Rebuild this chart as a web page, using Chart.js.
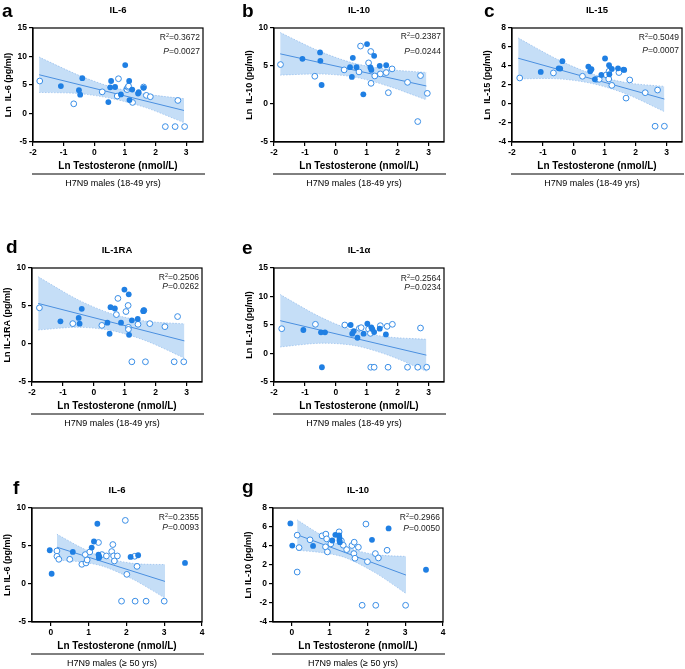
<!DOCTYPE html>
<html lang="en">
<head>
<meta charset="UTF-8">
<title>Testosterone vs cytokines</title>
<script src="https://cdn.jsdelivr.net/npm/chart.js@4.4.0/dist/chart.umd.min.js"></script>
<style>
    body { margin: 0; width: 685px; height: 669px; overflow: hidden; background: #fff; position: relative;
           font-family: "Liberation Sans", Arial, sans-serif; }
    canvas { position: absolute; }
    .letter { position: absolute; font-weight: bold; font-size: 19px; line-height: 19px; color: #000; }
</style>
</head>
<body>
<script>
// ---- data (x = Ln testosterone, y = Ln cytokine) ----
// a: IL-6, 18-49 yrs
const aFilledX = [-1.09, -0.50, -0.46, -0.39, 0.46, 0.55, 0.52, 0.68, 0.87, 1.01, 1.14, 1.15, 1.24, 1.43, 1.45, 1.61];
const aFilledY = [4.82, 4.1, 3.3, 6.2, 2.0, 5.7, 4.6, 4.65, 3.35, 8.5, 5.7, 2.35, 4.2, 3.5, 3.75, 4.5];
const aOpenX = [-1.78, -0.67, 0.26, 0.75, 0.79, 1.06, 1.07, 1.10, 1.12, 1.25, 1.61, 1.70, 1.83, 2.32, 2.64, 2.73, 2.95];
const aOpenY = [5.7, 1.7, 3.8, 3.06, 6.1, 4.3, 4.2, 4.6, 4.8, 1.94, 4.65, 3.18, 2.94, -2.3, -2.3, 2.29, -2.3];
const aLineX = [-1.8, 2.93];
const aLineY = [6.8, 0.53];
const aBandX = [-1.8, -0.5, 0.6, 1.7, 2.93];
const aBandUp = [9.9, 6.7, 4.6, 3.4, 2.6];
const aBandLo = [3.7, 3.5, 2.6, 1.0, -1.6];

// b: IL-10, 18-49 yrs
const bFilledX = [-1.08, -0.51, -0.50, -0.46, 0.46, 0.52, 0.55, 0.67, 0.89, 1.01, 1.12, 1.15, 1.24, 1.42, 1.63];
const bFilledY = [5.94, 6.78, 5.68, 2.50, 4.84, 3.56, 6.07, 4.84, 1.27, 7.88, 4.80, 4.49, 6.34, 5.02, 5.10];
const bOpenX = [-1.79, -0.68, 0.27, 0.75, 0.80, 1.06, 1.13, 1.14, 1.26, 1.44, 1.63, 1.70, 1.82, 2.32, 2.65, 2.74, 2.96];
const bOpenY = [5.19, 3.65, 4.49, 4.22, 7.62, 5.41, 6.91, 2.72, 3.69, 3.96, 4.13, 1.49, 4.62, 2.85, -2.31, 3.74, 1.40];
const bLineX = [-1.8, 2.93];
const bLineY = [6.6, 2.37];
const bBandX = [-1.8, -0.5, 0.6, 1.7, 2.93];
const bBandUp = [9.4, 6.9, 5.35, 4.55, 4.15];
const bBandLo = [3.8, 3.95, 3.55, 2.35, 0.55];

// c: IL-15, 18-49 yrs
const cFilledX = [-1.07, -0.49, -0.44, -0.37, 0.47, 0.53, 0.57, 0.68, 0.89, 1.01, 1.14, 1.15, 1.23, 1.43, 1.61, 1.63];
const cFilledY = [3.38, 3.76, 3.73, 4.51, 3.94, 3.45, 3.66, 2.6, 3.06, 4.79, 4.08, 3.13, 3.69, 3.76, 3.62, 3.59];
const cOpenX = [-1.75, -0.66, 0.28, 0.73, 0.82, 1.05, 1.13, 1.14, 1.23, 1.46, 1.69, 1.81, 2.31, 2.63, 2.71, 2.93];
const cOpenY = [2.74, 3.27, 2.92, 2.60, 2.6, 3.06, 2.63, 3.45, 1.96, 3.31, 0.62, 2.53, 1.19, -2.34, 1.47, -2.34];
const cLineX = [-1.8, 2.93];
const cLineY = [4.82, 0.52];
const cBandX = [-1.8, -0.5, 0.6, 1.7, 2.93];
const cBandUp = [6.95, 4.65, 3.15, 2.25, 1.85];
const cBandLo = [2.65, 2.65, 2.15, 1.05, -0.8];

// d: IL-1RA, 18-49 yrs
const dFilledX = [-1.08, -0.49, -0.46, -0.39, 0.44, 0.51, 0.54, 0.68, 0.88, 0.99, 1.13, 1.14, 1.23, 1.42, 1.60, 1.62];
const dFilledY = [2.99, 3.43, 2.68, 4.63, 2.81, 1.35, 4.85, 4.67, 2.81, 7.16, 6.54, 1.21, 3.12, 3.30, 4.32, 4.41];
const dOpenX = [-1.76, -0.68, 0.26, 0.73, 0.78, 1.04, 1.11, 1.12, 1.12, 1.23, 1.43, 1.62, 1.67, 1.81, 2.30, 2.60, 2.71, 2.91];
const dOpenY = [4.76, 2.68, 2.45, 3.87, 6.0, 4.27, 5.07, 2.19, 1.92, -2.34, 2.59, 4.41, -2.34, 2.68, 2.28, -2.34, 3.61, -2.34];
const dLineX = [-1.8, 2.93];
const dLineY = [5.34, 0.41];
const dBandX = [-1.8, -0.5, 0.6, 1.7, 2.93];
const dBandUp = [8.85, 5.8, 3.95, 3.0, 2.65];
const dBandLo = [1.85, 2.2, 1.75, 0.4, -1.85];

// e: IL-1α, 18-49 yrs
const eFilledX = [-1.05, -0.48, -0.45, -0.35, 0.48, 0.53, 0.58, 0.70, 0.90, 1.02, 1.15, 1.18, 1.24, 1.42, 1.62];
const eFilledY = [4.12, 3.71, -2.41, 3.71, 5.0, 3.47, 3.94, 2.76, 3.47, 5.24, 4.59, 4.29, 3.76, 4.35, 3.35];
const eOpenX = [-1.75, -0.66, 0.29, 0.76, 0.82, 1.06, 1.12, 1.13, 1.24, 1.44, 1.66, 1.69, 1.83, 2.32, 2.65, 2.74, 2.94];
const eOpenY = [4.35, 5.12, 5.0, 4.41, 4.53, 4.29, 3.53, -2.41, -2.41, 4.88, 4.76, -2.41, 5.12, -2.41, -2.41, 4.47, -2.41];
const eLineX = [-1.8, 2.93];
const eLineY = [5.76, -0.29];
const eBandX = [-1.8, -0.5, 0.6, 1.7, 2.93];
const eBandUp = [10.35, 6.4, 4.0, 2.9, 2.5];
const eBandLo = [1.15, 1.8, 1.4, -0.3, -3.1];

// f: IL-6, >= 50 yrs
const fFilledX = [-0.03, 0.02, 0.58, 1.08, 1.14, 1.23, 1.26, 1.27, 1.28, 2.11, 2.31, 3.55];
const fFilledY = [4.44, 1.35, 4.22, 4.79, 5.59, 7.93, 3.87, 3.43, 3.60, 3.56, 3.78, 2.77];
const fOpenX = [0.16, 0.16, 0.21, 0.50, 0.82, 0.91, 0.93, 0.96, 1.03, 1.26, 1.35, 1.47, 1.61, 1.64, 1.66, 1.68, 1.76, 1.87, 1.97, 2.01, 2.22, 2.23, 2.28, 2.52, 3.00];
const fOpenY = [4.35, 3.65, 3.25, 3.25, 2.59, 3.87, 2.77, 3.16, 4.22, 5.46, 3.87, 3.69, 4.27, 5.19, 3.69, 3.03, 3.69, -2.26, 8.37, 1.27, 3.65, -2.26, 2.32, -2.26, -2.26];
const fLineX = [0.16, 3.02];
const fLineY = [4.84, 0.34];
const fBandX = [0.16, 0.8, 1.4, 2.2, 3.02];
const fBandUp = [6.55, 4.8, 3.5, 2.7, 2.55];
const fBandLo = [3.15, 2.9, 2.3, 0.55, -1.85];

// g: IL-10, >= 50 yrs
const gFilledX = [-0.04, 0.01, 0.56, 1.07, 1.15, 1.25, 1.26, 1.26, 1.27, 2.12, 2.56, 3.55];
const gFilledY = [6.38, 4.05, 4.01, 4.58, 5.18, 5.11, 4.86, 4.58, 4.40, 4.65, 5.85, 1.5];
const gOpenX = [0.14, 0.14, 0.19, 0.48, 0.80, 0.89, 0.90, 0.92, 0.94, 1.03, 1.25, 1.31, 1.36, 1.45, 1.59, 1.64, 1.65, 1.67, 1.76, 1.86, 1.96, 2.00, 2.21, 2.22, 2.29, 2.52, 3.01];
const gOpenY = [5.14, 1.26, 3.83, 4.65, 5.07, 3.91, 5.25, 4.75, 3.38, 4.22, 5.49, 4.54, 4.08, 3.62, 4.05, 3.20, 4.40, 2.71, 3.87, -2.24, 6.31, 2.35, 3.20, -2.24, 2.74, 3.55, -2.24];
const gLineX = [0.14, 3.02];
const gLineY = [5.18, 0.94];
const gBandX = [0.14, 0.8, 1.4, 2.2, 3.02];
const gBandUp = [6.75, 5.1, 3.9, 3.1, 2.9];
const gBandLo = [3.55, 3.3, 2.8, 1.2, -1.0];

const FONT = '"Liberation Sans", Arial, sans-serif';
const young = 'H7N9 males (18-49 yrs)';
const old = 'H7N9 males (\u2265 50 yrs)';

const panels = [
    { letter: 'a', title: 'IL-6', yTitle: 'Ln  IL-6 (pg/ml)', group: young, r2: '0.3672', p: '0.0027',
      left: 33, top: 28, xMin: -2, xMax: 3.55, yMin: -5, yMax: 15, yStep: 5, statDy: [10, 24],
      lx: 2, ly: 16, fx: aFilledX, fy: aFilledY, ox: aOpenX, oy: aOpenY, lnx: aLineX, lny: aLineY, bx: aBandX, bu: aBandUp, bl: aBandLo },
    { letter: 'b', title: 'IL-10', yTitle: 'Ln  IL-10 (pg/ml)', group: young, r2: '0.2387', p: '0.0244',
      left: 274, top: 28, xMin: -2, xMax: 3.5, yMin: -5, yMax: 10, yStep: 5, statDy: [9, 24],
      lx: 242, ly: 16, fx: bFilledX, fy: bFilledY, ox: bOpenX, oy: bOpenY, lnx: bLineX, lny: bLineY, bx: bBandX, bu: bBandUp, bl: bBandLo },
    { letter: 'c', title: 'IL-15', yTitle: 'Ln  IL-15 (pg/ml)', group: young, r2: '0.5049', p: '0.0007',
      left: 512, top: 28, xMin: -2, xMax: 3.5, yMin: -4, yMax: 8, yStep: 2, statDy: [10, 23],
      lx: 484, ly: 16, fx: cFilledX, fy: cFilledY, ox: cOpenX, oy: cOpenY, lnx: cLineX, lny: cLineY, bx: cBandX, bu: cBandUp, bl: cBandLo },
    { letter: 'd', title: 'IL-1RA', yTitle: 'Ln IL-1RA (pg/ml)', group: young, r2: '0.2506', p: '0.0262',
      left: 32, top: 268, xMin: -2, xMax: 3.5, yMin: -5, yMax: 10, yStep: 5, statDy: [10, 19],
      lx: 6, ly: 252, fx: dFilledX, fy: dFilledY, ox: dOpenX, oy: dOpenY, lnx: dLineX, lny: dLineY, bx: dBandX, bu: dBandUp, bl: dBandLo },
    { letter: 'e', title: 'IL-1\u03b1', yTitle: 'Ln IL-1\u03b1 (pg/ml)', group: young, r2: '0.2564', p: '0.0234',
      left: 274, top: 268, xMin: -2, xMax: 3.5, yMin: -5, yMax: 15, yStep: 5, statDy: [11, 20],
      lx: 242, ly: 253, fx: eFilledX, fy: eFilledY, ox: eOpenX, oy: eOpenY, lnx: eLineX, lny: eLineY, bx: eBandX, bu: eBandUp, bl: eBandLo },
    { letter: 'f', title: 'IL-6', yTitle: 'Ln IL-6 (pg/ml)', group: old, r2: '0.2355', p: '0.0093',
      left: 32, top: 508, xMin: -0.5, xMax: 4, yMin: -5, yMax: 10, yStep: 5, statDy: [10, 20],
      lx: 13, ly: 493, fx: fFilledX, fy: fFilledY, ox: fOpenX, oy: fOpenY, lnx: fLineX, lny: fLineY, bx: fBandX, bu: fBandUp, bl: fBandLo },
    { letter: 'g', title: 'IL-10', yTitle: 'Ln IL-10 (pg/ml)', group: old, r2: '0.2966', p: '0.0050',
      left: 273, top: 508, xMin: -0.5, xMax: 4, yMin: -4, yMax: 8, yStep: 2, statDy: [10, 21],
      lx: 242, ly: 492, fx: gFilledX, fy: gFilledY, ox: gOpenX, oy: gOpenY, lnx: gLineX, lny: gLineY, bx: gBandX, bu: gBandUp, bl: gBandLo }
];

const PLOT_W = 170, PLOT_H = 114;
const BLUE = '#1f7fe3';

// frame, R2 / P text, underline and group label
const extras = {
    id: 'extras',
    afterDraw(chart, args, opts) {
        const { ctx, chartArea: ca } = chart;
        ctx.save();
        ctx.strokeStyle = '#000';
        ctx.lineWidth = 1.2;
        ctx.strokeRect(ca.left, ca.top, ca.width, ca.height);

        ctx.fillStyle = '#222';
        ctx.textBaseline = 'middle';
        ctx.textAlign = 'left';
        const f = '8.5px ' + FONT, sup = '5.5px ' + FONT;
        const xr = ca.right - 3;
        // R² line
        ctx.font = f;
        const wR = ctx.measureText('R').width;
        const wRest = ctx.measureText('=' + opts.r2).width;
        ctx.font = sup;
        const w2 = ctx.measureText('2').width;
        let sx = xr - wR - w2 - wRest;
        let y = ca.top + opts.statDy[0];
        ctx.font = f; ctx.fillText('R', sx, y);
        ctx.font = sup; ctx.fillText('2', sx + wR, y - 3);
        ctx.font = f; ctx.fillText('=' + opts.r2, sx + wR + w2, y);
        // P line
        ctx.font = 'italic ' + f;
        const wP = ctx.measureText('P').width;
        ctx.font = f;
        const wPr = ctx.measureText('=' + opts.p).width;
        sx = xr - wP - wPr;
        y = ca.top + opts.statDy[1];
        ctx.font = 'italic ' + f; ctx.fillText('P', sx, y);
        ctx.font = f; ctx.fillText('=' + opts.p, sx + wP, y);

        // group line and label
        ctx.beginPath();
        ctx.moveTo(ca.left - 1, ca.bottom + 32);
        ctx.lineTo(ca.right + 2, ca.bottom + 32);
        ctx.lineWidth = 1;
        ctx.stroke();
        ctx.fillStyle = '#000';
        ctx.font = '9px ' + FONT;
        ctx.textAlign = 'center';
        ctx.fillText(opts.group, (ca.left + ca.right) / 2 - 5, ca.bottom + 42);
        ctx.restore();
    }
};

const pts = (xs, ys) => xs.map((x, i) => ({ x: x, y: ys[i] }));

panels.forEach(p => {
    const canvas = document.createElement('canvas');
    const W = 33 + PLOT_W + 33, H = 28 + PLOT_H + 29 + 22;
    canvas.width = W; canvas.height = H;
    canvas.style.left = (p.left - 33) + 'px';
    canvas.style.top = (p.top - 28) + 'px';
    document.body.appendChild(canvas);

    const letter = document.createElement('div');
    letter.className = 'letter';
    letter.textContent = p.letter;
    letter.style.left = p.lx + 'px';
    letter.style.top = (p.ly - 15) + 'px';
    document.body.appendChild(letter);

    new Chart(canvas.getContext('2d'), {
        type: 'scatter',
        data: {
            datasets: [{
                data: pts(p.fx, p.fy),
                backgroundColor: BLUE, borderWidth: 0, pointRadius: 2.9
            }, {
                data: pts(p.ox, p.oy),
                backgroundColor: '#fff', borderColor: '#3a8ee6', borderWidth: 1, pointRadius: 2.9
            }, {
                type: 'line', data: pts(p.lnx, p.lny),
                borderColor: '#4a8fdf', borderWidth: 1, pointRadius: 0, fill: false
            }, {
                type: 'line', data: pts(p.bx, p.bu),
                borderColor: 'rgba(120,170,230,0.8)', borderWidth: 0.7, borderDash: [1.5, 1.5],
                pointRadius: 0, tension: 0.3, fill: '+1', backgroundColor: 'rgba(150,195,240,0.55)'
            }, {
                type: 'line', data: pts(p.bx, p.bl),
                borderColor: 'rgba(120,170,230,0.8)', borderWidth: 0.7, borderDash: [1.5, 1.5],
                pointRadius: 0, tension: 0.3, fill: false
            }]
        },
        options: {
            responsive: false,
            animation: false,
            events: [],
            layout: { padding: { top: 0, left: 0, right: 33, bottom: 22 } },
            plugins: {
                legend: { display: false },
                tooltip: { enabled: false },
                title: {
                    display: true, fullSize: false, text: p.title, color: '#000',
                    font: { family: FONT, size: 9.5, weight: 'bold', lineHeight: 1.2 },
                    padding: { top: 5, bottom: 11.6 }
                },
                extras: { r2: p.r2, p: p.p, statDy: p.statDy, group: p.group }
            },
            scales: {
                x: {
                    type: 'linear', min: p.xMin, max: p.xMax,
                    ticks: { stepSize: 1, includeBounds: false, color: '#000', padding: 2, maxRotation: 0,
                             font: { family: FONT, size: 8.5, weight: 'bold' } },
                    grid: { drawOnChartArea: false, tickLength: 4, color: '#000', lineWidth: 1.2 },
                    border: { color: '#000', width: 1.2 },
                    title: { display: true, text: 'Ln Testosterone (nmol/L)', color: '#000',
                             font: { family: FONT, size: 10, weight: 'bold' }, padding: { top: 0, bottom: -1 } },
                    afterFit: s => { s.height = 29; }
                },
                y: {
                    type: 'linear', min: p.yMin, max: p.yMax,
                    ticks: { stepSize: p.yStep, includeBounds: false, color: '#000', padding: 2,
                             font: { family: FONT, size: 8.5, weight: 'bold' } },
                    grid: { drawOnChartArea: false, tickLength: 4, color: '#000', lineWidth: 1.2 },
                    border: { color: '#000', width: 1.2 },
                    title: { display: true, text: p.yTitle, color: '#000',
                             font: { family: FONT, size: 9, weight: 'bold' }, padding: { top: 3, bottom: 0 } },
                    afterFit: s => { s.width = 33; }
                }
            }
        },
        plugins: [extras]
    });
});
</script>
</body>
</html>
